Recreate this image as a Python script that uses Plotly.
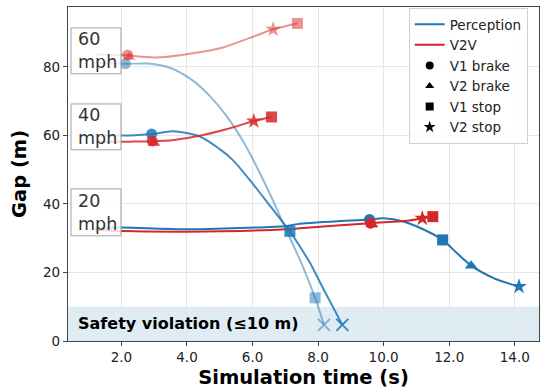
import plotly.graph_objects as go

# ---------------- data ----------------
# Perception (camera-based) gap trajectories
perc60_t = [1.2, 2.12, 2.8, 3.5, 4.18, 4.7, 5.2, 5.7, 6.2, 6.6, 7.0, 7.5, 7.91, 8.18]
perc60_gap = [81.2, 80.9, 81.0, 79.7, 76.0, 71.5, 65.8, 58.5, 49.5, 41.5, 33.0, 22.5, 12.6, 4.7]
perc40_t = [1.2, 2.3, 2.94, 3.57, 4.39, 5.0, 5.4, 6.0, 6.53, 7.14, 7.45, 7.76, 8.2, 8.74]
perc40_gap = [60.0, 60.0, 60.4, 61.2, 59.7, 56.0, 52.8, 46.0, 39.5, 32.0, 27.5, 22.7, 14.5, 4.7]
perc20_t = [1.2, 2.04, 3.98, 7.04, 7.45, 9.57, 10.0, 10.6, 11.0, 11.8, 12.24, 12.67, 13.37, 14.13]
perc20_gap = [33.0, 33.1, 32.6, 33.6, 34.2, 35.5, 35.8, 34.9, 33.5, 29.5, 25.6, 22.0, 18.3, 15.9]

# V2V gap trajectories
v2v60_t = [1.2, 2.19, 2.6, 3.16, 4.18, 5.1, 5.9, 6.63, 7.37]
v2v60_gap = [83.6, 83.4, 83.0, 82.8, 84.0, 85.7, 88.4, 91.0, 92.7]
v2v40_t = [1.2, 2.3, 2.94, 3.6, 4.39, 5.2, 6.04, 6.58]
v2v40_gap = [58.2, 58.2, 58.3, 58.7, 59.9, 61.8, 64.2, 65.4]
v2v20_t = [1.2, 2.04, 3.98, 7.04, 7.45, 9.6, 10.72, 11.18, 11.5]
v2v20_gap = [32.5, 32.1, 31.9, 32.6, 32.9, 34.4, 35.1, 35.8, 36.3]

# Events: (time, gap)
perc60_v1brake = (2.12, 80.9)
perc60_v1stop = (7.91, 12.6)
perc60_crash = (8.18, 4.7)
perc40_v1brake = (2.92, 60.4)
perc40_v1stop = (7.14, 32.0)
perc40_crash = (8.74, 4.7)
perc20_v1brake = (9.57, 35.5)
perc20_v1stop = (11.8, 29.5)
perc20_v2brake = (12.67, 22.0)
perc20_v2stop = (14.13, 15.9)

v2v60_v1brake = (2.19, 83.5)
v2v60_v2brake = (2.24, 82.9)
v2v60_v2stop = (6.63, 91.0)
v2v60_v1stop = (7.37, 92.7)
v2v40_v1brake = (2.94, 58.4)
v2v40_v2brake = (2.99, 57.8)
v2v40_v2stop = (6.04, 64.2)
v2v40_v1stop = (6.58, 65.4)
v2v20_v1brake = (9.6, 34.4)
v2v20_v2brake = (9.65, 34.0)
v2v20_v2stop = (11.18, 35.8)
v2v20_v1stop = (11.5, 36.3)

speed_labels = ["60<br>mph", "40<br>mph", "20<br>mph"]
legend_names = ["Perception", "V2V", "V1 brake", "V2 brake", "V1 stop", "V2 stop"]
x_ticks = [2, 4, 6, 8, 10, 12, 14]
y_ticks = [0, 20, 40, 60, 80]
safety_limit = 10

# ---------------- styling ----------------
FONT = "DejaVu Sans"
BLUE = (31, 119, 180)
RED = (214, 39, 40)


def rgba(c, a):
    return f"rgba({c[0]},{c[1]},{c[2]},{a})"


fig = go.Figure()

# safety band
fig.add_shape(type="rect", xref="paper", yref="y", x0=0, x1=1, y0=0, y1=safety_limit,
              fillcolor="rgba(31,119,180,0.14)", line_width=0, layer="below")

lines = [
    (perc60_t, perc60_gap, BLUE, 0.5),
    (perc40_t, perc40_gap, BLUE, 0.85),
    (perc20_t, perc20_gap, BLUE, 1.0),
    (v2v60_t, v2v60_gap, RED, 0.5),
    (v2v40_t, v2v40_gap, RED, 0.85),
    (v2v20_t, v2v20_gap, RED, 1.0),
]
for t, g, c, a in lines:
    fig.add_trace(go.Scatter(x=t, y=g, mode="lines", line=dict(color=rgba(c, a), width=2, shape="spline", smoothing=0.8),
                             showlegend=False, hoverinfo="skip"))

events = [
    (perc60_v1brake, "circle", BLUE, 0.5), (perc60_v1stop, "square", BLUE, 0.5),
    (perc40_v1brake, "circle", BLUE, 0.85), (perc40_v1stop, "square", BLUE, 0.85),
    (perc20_v1brake, "circle", BLUE, 1.0), (perc20_v1stop, "square", BLUE, 1.0),
    (perc20_v2brake, "triangle-up", BLUE, 1.0), (perc20_v2stop, "star", BLUE, 1.0),
    (v2v60_v1brake, "circle", RED, 0.5), (v2v60_v2brake, "triangle-up", RED, 0.5),
    (v2v60_v2stop, "star", RED, 0.5), (v2v60_v1stop, "square", RED, 0.5),
    (v2v40_v1brake, "circle", RED, 0.85), (v2v40_v2brake, "triangle-up", RED, 0.85),
    (v2v40_v2stop, "star", RED, 0.85), (v2v40_v1stop, "square", RED, 0.85),
    (v2v20_v1brake, "circle", RED, 1.0), (v2v20_v2brake, "triangle-up", RED, 1.0),
    (v2v20_v2stop, "star", RED, 1.0), (v2v20_v1stop, "square", RED, 1.0),
]
for (t, g), sym, c, a in events:
    size = 12 if sym == "star" else 11
    fig.add_trace(go.Scatter(x=[t], y=[g], mode="markers",
                             marker=dict(symbol=sym, size=size, color=rgba(c, a), line_width=0),
                             showlegend=False, hoverinfo="skip"))

for (t, g), a in [(perc60_crash, 0.5), (perc40_crash, 0.85)]:
    fig.add_trace(go.Scatter(x=[t], y=[g], mode="markers",
                             marker=dict(symbol="x-thin-open", size=12, color=rgba(BLUE, a),
                                         line=dict(color=rgba(BLUE, a), width=2)),
                             showlegend=False, hoverinfo="skip"))

# legend entries
fig.add_trace(go.Scatter(x=[None], y=[None], mode="lines", line=dict(color=rgba(BLUE, 1), width=2),
                         name=legend_names[0]))
fig.add_trace(go.Scatter(x=[None], y=[None], mode="lines", line=dict(color=rgba(RED, 1), width=2),
                         name=legend_names[1]))
for name, sym in zip(legend_names[2:], ["circle", "triangle-up", "square", "star"]):
    fig.add_trace(go.Scatter(x=[None], y=[None], mode="markers",
                             marker=dict(symbol=sym, size=8 if sym != "star" else 9, color="black"),
                             name=name))

# speed label boxes
box_y = [(91.4, 78.0), (69.2, 55.8), (44.4, 30.7)]
for lab, (y1, y0) in zip(speed_labels, box_y):
    fig.add_shape(type="rect", xref="paper", yref="y", x0=0.0064, x1=0.1125, y0=y0, y1=y1,
                  fillcolor="rgba(255,255,255,0.8)", line=dict(color="#a0a0a0", width=1), layer="above")
    fig.add_annotation(x=0.0165, xref="paper", y=(y0 + y1) / 2, yref="y", text=lab, showarrow=False,
                       xanchor="left", yanchor="middle", align="left",
                       font=dict(family=FONT, size=17.5, color="#333333"))

fig.add_annotation(x=0.017, xref="paper", y=safety_limit / 2, yref="y",
                   text="<b>Safety violation (≤10 m)</b>", showarrow=False,
                   xanchor="left", yanchor="middle", font=dict(family=FONT, size=16, color="black"))

axis_common = dict(showline=True, linecolor="#444444", linewidth=1.2, mirror=True,
                   showgrid=True, gridcolor="#e6e6e6", gridwidth=1, zeroline=False,
                   ticks="outside", ticklen=4, tickcolor="#444444",
                   tickfont=dict(family=FONT, size=13.5, color="#222222"))

fig.update_layout(
    width=544, height=389,
    margin=dict(l=68, r=5, t=7, b=48),
    paper_bgcolor="white", plot_bgcolor="white",
    font=dict(family=FONT),
    xaxis=dict(range=[0.37, 14.74], tickvals=x_ticks, ticktext=[f"{v:.1f}" for v in x_ticks],
               title=dict(text="<b>Simulation time (s)</b>", font=dict(family=FONT, size=19.5, color="black"),
                          standoff=6),
               **axis_common),
    yaxis=dict(range=[0, 97.5], tickvals=y_ticks, ticktext=[str(v) for v in y_ticks],
               title=dict(text="<b>Gap (m)</b>", font=dict(family=FONT, size=19.5, color="black"), standoff=11),
               **axis_common),
    legend=dict(x=0.976, y=0.997, xanchor="right", yanchor="top",
                bgcolor="rgba(255,255,255,0.85)", bordercolor="#d0d0d0", borderwidth=1,
                font=dict(family=FONT, size=13.5, color="#222222")),
)

fig.write_html("out.html", config={"displayModeBar": False},
               post_script="document.body.style.margin='0';document.body.style.overflow='hidden';")
